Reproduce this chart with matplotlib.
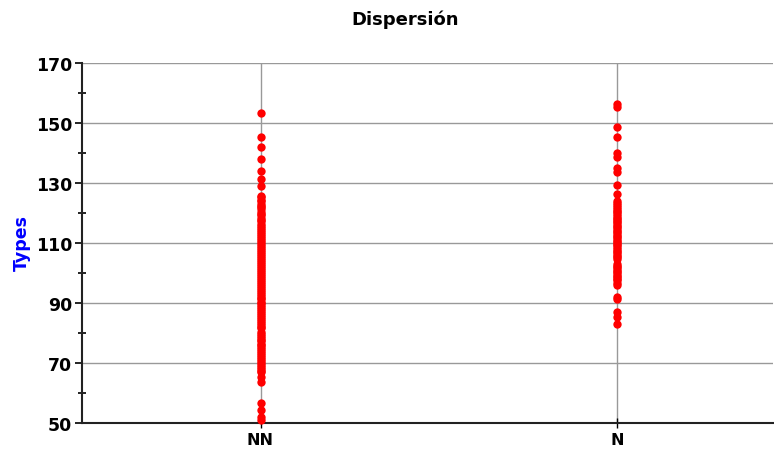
import matplotlib.pyplot as plt

categories = ['NN', 'N']
y_ticks = [50, 70, 90, 110, 130, 150, 170]
y_minor = [60, 80, 100, 120, 140, 160]

nn_values = [153.3, 145.4, 142.1, 138.0, 134.1, 131.3, 129.1,
             125.8, 125.2, 124.5, 123.9, 123.1, 122.4, 121.9, 121.3, 120.5,
             119.8, 119.2, 118.5, 117.8, 117.2, 116.4, 115.8, 115.1, 114.4,
             113.6, 112.9, 112.3, 111.7, 111.0, 110.4, 109.7, 109.1, 108.4,
             107.7, 106.9, 106.2, 105.6, 104.9, 104.3, 103.6, 102.9, 102.3,
             101.6, 101.0, 100.3, 99.7, 99.0, 98.4, 97.7, 97.1, 96.4, 95.8,
             95.1, 94.4, 93.8, 93.1, 92.5, 91.8, 91.2, 90.5, 89.9, 89.2,
             88.6, 87.9, 87.3, 86.6, 86.0, 85.3, 84.7, 84.0, 83.4, 82.7,
             82.1, 81.6, 80.4, 79.8, 79.1, 78.5, 77.8, 77.2, 76.5, 75.9,
             75.2, 74.6, 73.9, 73.3, 72.6, 72.0, 71.3, 70.7, 70.0, 69.4,
             68.7, 68.1, 67.5, 67.0, 65.2, 63.6,
             56.7, 54.2, 52.0, 51.0]

n_values = [156.2, 155.4, 148.6, 145.2, 139.9, 138.6, 135.0, 133.6, 129.4,
            126.3, 124.1, 123.3, 122.7, 122.0, 121.3, 120.7, 120.2, 119.6,
            119.1, 118.5, 118.0, 117.4, 116.9, 116.3, 115.8, 115.2, 114.7,
            114.1, 113.6, 113.0, 112.5, 111.9, 111.4, 110.8, 110.3, 109.7,
            109.2, 108.6, 108.1, 107.5, 107.0, 106.3, 105.8, 105.2, 104.7,
            103.0, 102.4, 101.9, 101.3, 100.8, 100.2, 99.7, 99.1, 98.6,
            98.0, 97.6, 96.8, 95.9, 91.9, 91.3,
            86.9, 85.2, 83.0]

fig = plt.figure(figsize=(7.74, 4.52), dpi=100)
ax = fig.add_axes([82 / 774, 1 - 424 / 452, 691 / 774, 360 / 452])

ax.plot([1] * len(nn_values), nn_values, 'o', color='red', markersize=6,
        markeredgewidth=0, zorder=3, clip_on=False)
ax.plot([2] * len(n_values), n_values, 'o', color='red', markersize=6,
        markeredgewidth=0, zorder=3, clip_on=False)

ax.set_xlim(0.5, 0.5 + 691 / 357)
ax.set_ylim(50, 170)
ax.set_xticks([1, 2])
ax.set_xticklabels(categories, fontsize=11.5, fontweight='bold')
ax.set_yticks(y_ticks)
ax.set_yticks(y_minor, minor=True)
for lab in ax.get_yticklabels():
    lab.set_fontweight('bold')
    lab.set_fontsize(12.5)

ax.grid(True, which='major', color='#999999', linewidth=1)
ax.set_axisbelow(True)
for s in ['top', 'right']:
    ax.spines[s].set_visible(False)
for s in ['left', 'bottom']:
    ax.spines[s].set_linewidth(1.5)
    ax.spines[s].set_color('#222222')

ax.tick_params(axis='y', which='major', direction='out', length=5, width=1.2, pad=2)
ax.tick_params(axis='y', which='minor', direction='inout', length=6, width=1.2)
ax.tick_params(axis='x', which='major', direction='inout', length=7, width=1, pad=3)

fig.text(22 / 774, 1 - 243 / 452, 'Types', rotation=90, ha='center', va='center',
         color='blue', fontsize=12.5, fontweight='bold')
fig.text(405 / 774, 1 - 20 / 452, 'Dispersión', ha='center', va='center',
         fontsize=13, fontweight='bold')

fig.savefig('out.png', dpi=100)
